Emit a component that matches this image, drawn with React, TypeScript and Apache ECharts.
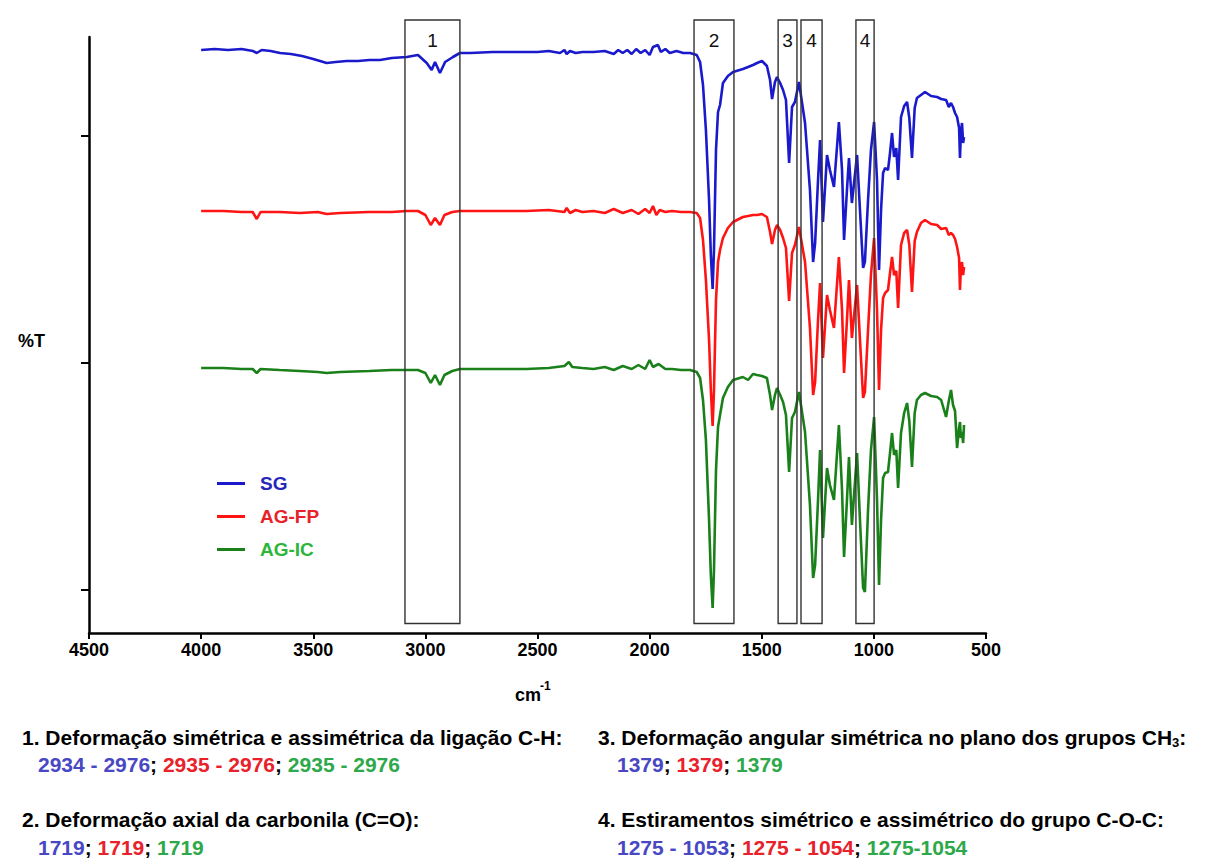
import React, { useEffect, useRef } from "react";
import * as echarts from "echarts";

const FONT = '"Liberation Sans", Arial, Helvetica, sans-serif';

// x: wavenumber (cm-1), y: %T with vertical offsets between samples
const sgData: [number, number][] = [
  [4000,583],[3940,584],[3880,583],[3820,584],[3769,582],[3752,580],[3730,583],[3690,582],[3648,580],[3600,579],[3550,577],[3500,574],[3440,570],[3400,571],[3351,572],[3300,572],[3250,573],[3202,573],[3150,575],[3083,576],[3033,578],[2994,570],[2972,563],[2957,571],[2935,560],[2912,571],[2877,576],[2846,580],[2800,580],[2700,581],[2600,581],[2500,581],[2450,582],[2400,580],[2380,583],[2370,579],[2355,582],[2330,580],[2300,581],[2250,581],[2200,582],[2160,579],[2140,583],[2120,580],[2100,583],[2080,579],[2060,584],[2040,580],[2020,583],[2000,578],[1985,586],[1963,588],[1950,581],[1930,584],[1910,580],[1880,582],[1850,580],
  [1820,580],[1790,578],[1775,571],[1762,548],[1749,503],[1735,433],[1727,378],[1719,344],[1713,383],[1704,483],[1695,521],[1686,528],[1673,550],[1651,557],[1628,561],[1584,564],[1561,566],[1539,568],[1521,570],[1499,572],[1477,567],[1463,553],[1454,534],[1441,551],[1432,556],[1418,550],[1405,543],[1392,533],[1378,470],[1365,526],[1352,531],[1334,551],[1307,510],[1285,443],[1271,371],[1262,390],[1249,453],[1240,493],[1227,411],[1209,478],[1196,463],[1178,446],[1156,511],[1142,463],[1133,393],[1120,443],[1111,475],[1098,430],[1075,478],[1062,423],[1048,365],[1040,371],[1026,433],[1013,483],[999,511],[986,453],[977,363],[968,423],[959,460],[950,465],[937,463],[928,480],[919,500],[910,476],[900,485],[892,453],[879,516],[865,527],[852,531],[842,515],[830,475],[818,525],[808,535],[790,538],[772,541],[745,537],[718,536],[700,534],[678,533],[666,526],[656,530],[647,526],[638,520],[629,516],[620,505],[616,475],[612,500],[607,510],[602,490],[598,496]
];

const agfpData: [number, number][] = [
  [4000,422],[3900,422],[3820,421],[3770,421],[3752,414],[3735,421],[3650,421],[3560,420],[3480,421],[3440,419],[3380,420],[3250,421],[3150,421],[3083,422],[3033,422],[3000,418],[2976,408],[2957,415],[2935,408],[2915,418],[2880,421],[2846,422],[2700,422],[2550,422],[2450,423],[2380,421],[2370,425],[2355,420],[2330,423],[2300,421],[2250,422],[2200,420],[2160,424],[2120,420],[2080,423],[2050,419],[2020,424],[2000,420],[1985,427],[1970,418],[1955,423],[1930,421],[1900,422],[1860,421],
  [1820,421],[1790,420],[1775,415],[1762,393],[1749,353],[1735,293],[1727,243],[1719,207],[1713,243],[1704,333],[1695,371],[1686,383],[1673,395],[1651,405],[1628,411],[1584,416],[1561,417],[1539,418],[1521,418],[1499,419],[1477,416],[1463,401],[1454,389],[1441,403],[1432,408],[1418,403],[1405,395],[1392,385],[1378,332],[1365,380],[1352,388],[1334,406],[1307,371],[1285,305],[1271,238],[1262,251],[1249,313],[1240,350],[1227,275],[1209,338],[1196,323],[1178,305],[1156,376],[1142,323],[1133,260],[1120,313],[1111,353],[1098,295],[1075,348],[1062,293],[1048,235],[1040,241],[1026,303],[1013,358],[999,395],[986,323],[977,243],[968,303],[959,335],[950,340],[937,343],[928,360],[919,376],[910,358],[900,362],[892,325],[879,388],[865,400],[852,403],[842,388],[830,341],[818,392],[808,401],[790,410],[772,413],[745,409],[718,408],[700,404],[678,405],[666,398],[656,400],[647,398],[638,394],[629,386],[620,375],[616,343],[612,365],[607,371],[602,358],[598,366]
];

const agicData: [number, number][] = [
  [4000,265],[3900,265],[3820,264],[3770,264],[3752,260],[3735,264],[3650,263],[3560,262],[3480,261],[3440,260],[3380,261],[3250,262],[3150,263],[3083,263],[3033,263],[3000,260],[2976,250],[2957,258],[2935,248],[2915,258],[2880,262],[2846,264],[2700,264],[2550,264],[2450,265],[2380,267],[2360,271],[2345,266],[2300,265],[2250,264],[2200,266],[2160,263],[2120,267],[2080,264],[2050,268],[2020,264],[2000,273],[1985,266],[1960,269],[1930,264],[1900,264],[1860,263],
  [1820,263],[1790,261],[1775,255],[1762,233],[1749,193],[1735,113],[1727,58],[1719,25],[1713,63],[1704,163],[1695,206],[1686,218],[1673,235],[1651,246],[1628,253],[1584,256],[1561,253],[1539,259],[1521,258],[1499,257],[1477,255],[1463,238],[1454,223],[1441,238],[1432,245],[1418,238],[1405,231],[1392,218],[1378,161],[1365,215],[1352,221],[1334,241],[1307,201],[1285,128],[1271,55],[1262,68],[1249,133],[1240,183],[1227,95],[1209,165],[1196,148],[1178,133],[1156,208],[1142,143],[1133,76],[1120,133],[1111,176],[1098,108],[1075,180],[1062,113],[1048,45],[1040,41],[1026,123],[1013,183],[999,216],[986,133],[977,48],[968,113],[959,155],[950,160],[937,161],[928,180],[919,200],[910,178],[900,183],[892,145],[879,200],[865,220],[852,230],[842,212],[830,166],[818,220],[808,233],[790,238],[772,240],[745,237],[718,236],[700,233],[678,216],[666,232],[656,243],[647,228],[638,222],[629,185],[620,205],[616,211],[612,195],[607,201],[602,190],[598,208]
];

const seriesNames = ["SG", "AG-FP", "AG-IC"];
const xTicks = { min: 500, max: 4500, interval: 500 };
const yTickValues = [43, 270, 497];

// Annotation boxes (wavenumber ranges) and their labels
const boxFrom = [3091, 1802, 1427, 1325, 1080];
const boxTo = [2846, 1624, 1343, 1231, 999];
const boxLabels = ["1", "2", "3", "4", "4"];
const boxTopValue = 613;
const boxBottomValue = 9.5;

const lineColors = ["#1a1acc", "#ff1414", "#1a801a"];
const legendColors = ["#2626b8", "#e8212b", "#2db53a"];
const numBlue = "#4848c4";
const numRed = "#e8212b";
const numGreen = "#2da84a";

export default function App() {
  const ref = useRef<HTMLDivElement>(null);
  useEffect(() => {
    if (!ref.current) return;
    const chart = echarts.init(ref.current, null, { renderer: "svg" });

    const boxData = boxFrom.map((f, i) => [f, boxTo[i], boxTopValue, boxBottomValue]);

    const textBase = { fontFamily: FONT, fontWeight: "bold", fontSize: 21, fill: "#000" };
    const rich = {
      k: { fill: "#000", fontFamily: FONT, fontWeight: "bold", fontSize: 21 },
      b: { fill: numBlue, fontFamily: FONT, fontWeight: "bold", fontSize: 21 },
      r: { fill: numRed, fontFamily: FONT, fontWeight: "bold", fontSize: 21 },
      g: { fill: numGreen, fontFamily: FONT, fontWeight: "bold", fontSize: 21 },
      sub: { fill: "#000", fontFamily: FONT, fontWeight: "bold", fontSize: 13, padding: [10, 0, 0, 0] },
    };

    const option: any = {
      animation: false,
      backgroundColor: "#fff",
      grid: { left: 89, right: 222, top: 37, bottom: 228, containLabel: false },
      xAxis: {
        type: "value",
        inverse: true,
        min: xTicks.min,
        max: xTicks.max,
        interval: xTicks.interval,
        splitLine: { show: false },
        axisLine: { show: true, lineStyle: { color: "#000", width: 2.5 } },
        axisTick: { show: true, length: 6, lineStyle: { color: "#000", width: 2 } },
        axisLabel: {
          color: "#000",
          fontFamily: FONT,
          fontWeight: "bold",
          fontSize: 18,
          margin: 8,
          formatter: (v: number) => String(v),
        },
      },
      yAxis: {
        type: "value",
        min: 0,
        max: 596,
        splitLine: { show: false },
        axisLine: { show: true, lineStyle: { color: "#000", width: 2.5 } },
        axisTick: { show: true, length: 8, customValues: yTickValues, lineStyle: { color: "#000", width: 2 } },
        axisLabel: { show: false },
      },
      legend: {
        show: true,
        orient: "vertical",
        left: 212,
        top: 468,
        itemWidth: 28,
        itemHeight: 14,
        itemGap: 12,
        data: seriesNames.map((n, i) => ({
          name: n,
          icon: "path://M0,6 L28,6 L28,9 L0,9 Z",
          itemStyle: { color: lineColors[i] },
          textStyle: { color: legendColors[i] },
        })),
        textStyle: { fontFamily: FONT, fontWeight: "bold", fontSize: 19, padding: [0, 0, 0, 10], lineHeight: 21 },
      },
      series: [
        { name: "AG-IC", type: "line", data: agicData, symbol: "none", showSymbol: false, lineStyle: { color: lineColors[2], width: 2.6 }, itemStyle: { color: lineColors[2] }, z: 2 },
        { name: "AG-FP", type: "line", data: agfpData, symbol: "none", showSymbol: false, lineStyle: { color: lineColors[1], width: 2.6 }, itemStyle: { color: lineColors[1] }, z: 3 },
        { name: "SG", type: "line", data: sgData, symbol: "none", showSymbol: false, lineStyle: { color: lineColors[0], width: 2.6 }, itemStyle: { color: lineColors[0] }, z: 4 },
        {
          name: "boxes",
          type: "custom",
          clip: false,
          z: 10,
          data: boxData,
          renderItem: (params: any, api: any) => {
            const p1 = api.coord([api.value(0), api.value(2)]);
            const p2 = api.coord([api.value(1), api.value(3)]);
            const x = Math.min(p1[0], p2[0]);
            const w = Math.abs(p2[0] - p1[0]);
            const y = p1[1];
            const h = p2[1] - p1[1];
            return {
              type: "group",
              children: [
                { type: "rect", shape: { x, y, width: w, height: h }, style: { fill: "none", stroke: "#333", lineWidth: 1.4 } },
                {
                  type: "text",
                  style: {
                    text: boxLabels[params.dataIndex],
                    x: x + w / 2,
                    y: y + 20,
                    align: "center",
                    verticalAlign: "middle",
                    fontFamily: FONT,
                    fontSize: 19,
                    fill: "#111",
                  },
                },
              ],
            };
          },
        },
      ],
      graphic: [
        { type: "text", x: 18, y: 341, style: { text: "%T", fontFamily: FONT, fontWeight: "bold", fontSize: 18, fill: "#000", verticalAlign: "middle" } },
        { type: "text", x: 528, y: 695, style: { text: "cm", fontFamily: FONT, fontWeight: "bold", fontSize: 18, fill: "#000", align: "center", verticalAlign: "middle" } },
        { type: "text", x: 540, y: 686, style: { text: "-1", fontFamily: FONT, fontWeight: "bold", fontSize: 12, fill: "#000", verticalAlign: "middle" } },
        { type: "text", x: 22, y: 737, style: { ...textBase, text: "1. Deformação simétrica e assimétrica da ligação C-H:", verticalAlign: "middle" } },
        { type: "text", x: 38, y: 764, style: { text: "{b|2934 - 2976}{k|; }{r|2935 - 2976}{k|; }{g|2935 - 2976}", rich, verticalAlign: "middle" } },
        { type: "text", x: 22, y: 819, style: { ...textBase, text: "2. Deformação axial da carbonila (C=O):", verticalAlign: "middle" } },
        { type: "text", x: 38, y: 847, style: { text: "{b|1719}{k|; }{r|1719}{k|; }{g|1719}", rich, verticalAlign: "middle" } },
        { type: "text", x: 598, y: 737, style: { text: "{k|3. Deformação angular simétrica no plano dos grupos CH}{sub|3}{k|:}", rich, verticalAlign: "middle" } },
        { type: "text", x: 617, y: 764, style: { text: "{b|1379}{k|; }{r|1379}{k|; }{g|1379}", rich, verticalAlign: "middle" } },
        { type: "text", x: 598, y: 819, style: { text: "{k|4. Estiramentos simétrico e assimétrico do grupo C-O-C:}", rich, verticalAlign: "middle" } },
        { type: "text", x: 617, y: 847, style: { text: "{b|1275 - 1053}{k|; }{r|1275 - 1054}{k|; }{g|1275-1054}", rich, verticalAlign: "middle" } },
      ],
    };
    chart.setOption(option);
    return () => chart.dispose();
  }, []);
  return (
    <div
      ref={ref}
      style={{ position: "fixed", left: 0, top: 0, width: 1208, height: 861, background: "#fff" }}
    />
  );
}
